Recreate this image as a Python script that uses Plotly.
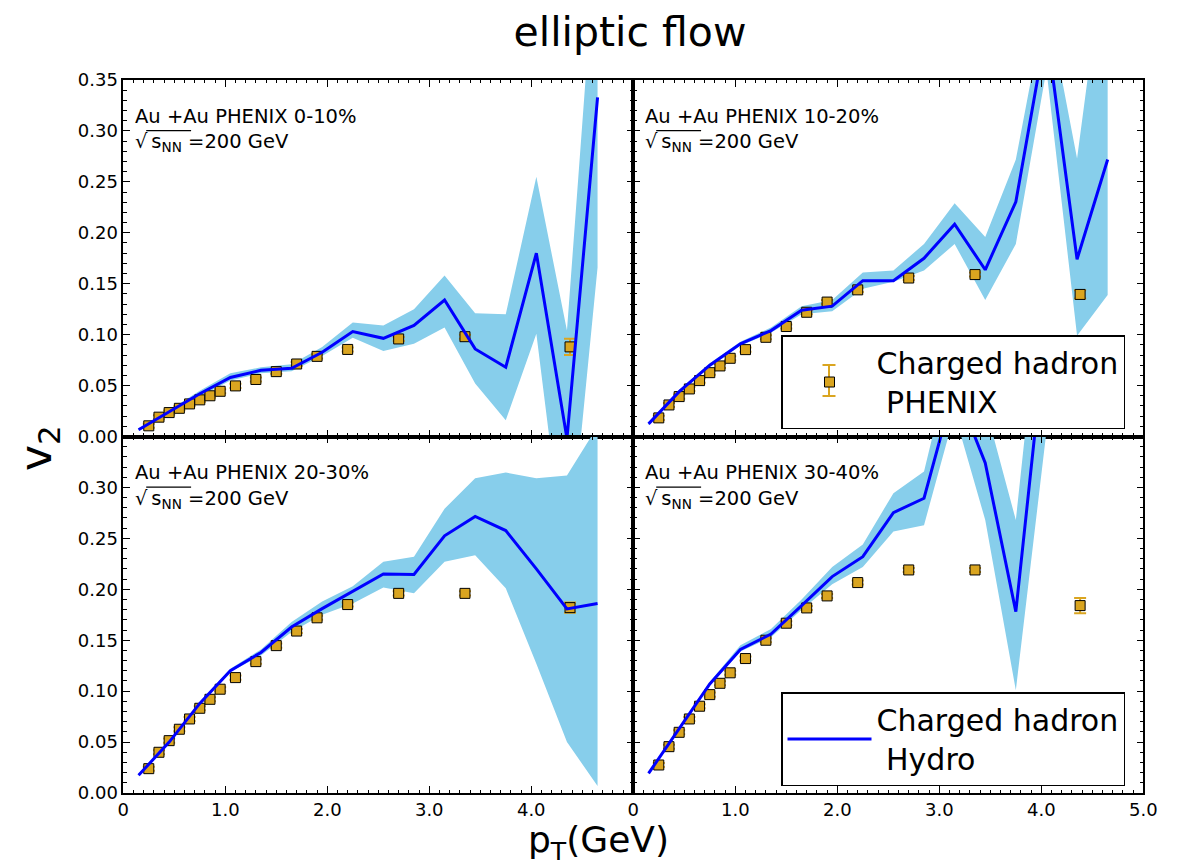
import plotly.graph_objects as go

# ---------------- data ----------------
CENTRALITY = ["0-10%", "10-20%", "20-30%", "30-40%"]

# PHENIX charged hadron v2 (pT bin centres, GeV)
PT_DATA = [0.25, 0.35, 0.45, 0.55, 0.65, 0.75, 0.85, 0.95, 1.1, 1.3,
           1.5, 1.7, 1.9, 2.2, 2.7, 3.35, 4.38]

V2_DATA_0_10 = [0.0105, 0.019, 0.0235, 0.0277, 0.032, 0.036, 0.040, 0.0444, 0.0497, 0.056,
                0.0637, 0.0712, 0.0787, 0.0855, 0.0958, 0.098, 0.088]
V2_DATA_10_20 = [0.0183, 0.031, 0.0392, 0.0467, 0.0549, 0.0627, 0.0693, 0.0768, 0.0853, 0.0974,
                 0.108, 0.122, 0.132, 0.144, 0.1556, 0.159, 0.1395]
V2_DATA_20_30 = [0.0239, 0.040, 0.0514, 0.0626, 0.0727, 0.0832, 0.092, 0.1019, 0.1133, 0.129,
                 0.1447, 0.159, 0.172, 0.185, 0.196, 0.196, 0.182]
V2_DATA_30_40 = [0.0275, 0.0455, 0.0596, 0.0727, 0.0852, 0.0966, 0.1077, 0.118, 0.132, 0.150,
                 0.1667, 0.1817, 0.1935, 0.2066, 0.219, 0.219, 0.184]

ERR_0_10 = [0.002] * 16 + [0.008]
ERR_10_20 = [0.002] * 16 + [0.004]
ERR_20_30 = [0.002] * 16 + [0.005]
ERR_30_40 = [0.002] * 16 + [0.0074]

# Hydro calculation (pT grid, GeV) with uncertainty band
PT_HYDRO = [0.15, 0.45, 0.75, 1.05, 1.35, 1.65, 1.95, 2.25,
            2.55, 2.85, 3.15, 3.45, 3.75, 4.05, 4.35, 4.65]

HYDRO_0_10 = [0.0066, 0.024, 0.042, 0.058, 0.065, 0.067, 0.0827, 0.103,
              0.0964, 0.109, 0.134, 0.086, 0.068, 0.180, -0.002, 0.333]
HYDRO_LO_0_10 = [0.006, 0.022, 0.039, 0.055, 0.062, 0.064, 0.079, 0.097,
                 0.084, 0.091, 0.107, 0.052, 0.016, 0.101, -0.14, 0.166]
HYDRO_HI_0_10 = [0.008, 0.026, 0.045, 0.062, 0.068, 0.071, 0.088, 0.112,
                 0.109, 0.125, 0.158, 0.121, 0.120, 0.255, 0.104, 0.51]

HYDRO_10_20 = [0.0124, 0.044, 0.070, 0.091, 0.104, 0.124, 0.128, 0.153,
               0.153, 0.175, 0.2085, 0.1637, 0.2304, 0.40, 0.174, 0.272]
HYDRO_LO_10_20 = [0.011, 0.042, 0.068, 0.089, 0.102, 0.120, 0.123, 0.145,
                  0.152, 0.163, 0.189, 0.134, 0.189, 0.36, 0.099, 0.139]
HYDRO_HI_10_20 = [0.014, 0.046, 0.072, 0.093, 0.107, 0.128, 0.134, 0.161,
                  0.163, 0.189, 0.229, 0.196, 0.272, 0.43, 0.273, 0.50]

HYDRO_20_30 = [0.0174, 0.050, 0.088, 0.120, 0.138, 0.163, 0.181, 0.198,
               0.215, 0.2145, 0.2525, 0.2715, 0.2577, 0.22, 0.1807, 0.186]
HYDRO_LO_20_30 = [0.017, 0.049, 0.087, 0.119, 0.135, 0.158, 0.175, 0.186,
                  0.2017, 0.196, 0.227, 0.2335, 0.201, 0.127, 0.050, 0.0069]
HYDRO_HI_20_30 = [0.018, 0.051, 0.089, 0.122, 0.141, 0.168, 0.188, 0.203,
                  0.227, 0.232, 0.279, 0.309, 0.3146, 0.309, 0.3117, 0.36]

HYDRO_30_40 = [0.0193, 0.063, 0.107, 0.141, 0.156, 0.184, 0.2125, 0.232,
               0.2753, 0.2894, 0.40, 0.324, 0.178, 0.46, 0.52, 0.50]
HYDRO_LO_30_40 = [0.019, 0.062, 0.106, 0.139, 0.153, 0.180, 0.205, 0.222,
                  0.2567, 0.263, 0.3726, 0.268, 0.101, 0.355, 0.45, 0.45]
HYDRO_HI_30_40 = [0.020, 0.064, 0.109, 0.145, 0.161, 0.190, 0.222, 0.244,
                  0.2944, 0.3156, 0.44, 0.38, 0.268, 0.55, 0.60, 0.60]

X_TICKS = [0, 1, 2, 3, 4, 5]
X_TICK_TEXT = ["0", "1.0", "2.0", "3.0", "4.0", "5.0"]
Y_TICKS = [0.00, 0.05, 0.10, 0.15, 0.20, 0.25, 0.30, 0.35]
Y_TICK_TEXT = ["0.00", "0.05", "0.10", "0.15", "0.20", "0.25", "0.30", "0.35"]

# ---------------- styling ----------------
FONT = "DejaVu Sans"
GOLD = "#DAA520"
SKY = "#87CEEB"
BLUE = "#0000FF"
W, H = 1183, 868

X_DOMAINS = [[0.1042, 0.5353], [0.5353, 0.9665]]
Y_DOMAINS = [[0.4971, 0.9078], [0.0864, 0.4971]]

panels = [
    (V2_DATA_0_10, ERR_0_10, HYDRO_0_10, HYDRO_LO_0_10, HYDRO_HI_0_10),
    (V2_DATA_10_20, ERR_10_20, HYDRO_10_20, HYDRO_LO_10_20, HYDRO_HI_10_20),
    (V2_DATA_20_30, ERR_20_30, HYDRO_20_30, HYDRO_LO_20_30, HYDRO_HI_20_30),
    (V2_DATA_30_40, ERR_30_40, HYDRO_30_40, HYDRO_LO_30_40, HYDRO_HI_30_40),
]

fig = go.Figure()
layout = {}
annotations = []
shapes = []


def px(x):
    return x / W


def py(y):
    return 1 - y / H


for i, (v2, err, hyd, lo, hi) in enumerate(panels):
    row, col = divmod(i, 2)
    n = i + 1
    xa = "x" if n == 1 else f"x{n}"
    ya = "y" if n == 1 else f"y{n}"
    xkey = "xaxis" if n == 1 else f"xaxis{n}"
    ykey = "yaxis" if n == 1 else f"yaxis{n}"

    # uncertainty band of the hydro curve
    fig.add_trace(go.Scatter(x=PT_HYDRO, y=lo, mode="lines", line=dict(width=0, color=SKY),
                             xaxis=xa, yaxis=ya, showlegend=False, hoverinfo="skip"))
    fig.add_trace(go.Scatter(x=PT_HYDRO, y=hi, mode="lines", line=dict(width=0, color=SKY),
                             fill="tonexty", fillcolor=SKY,
                             xaxis=xa, yaxis=ya, showlegend=False, hoverinfo="skip"))
    # PHENIX data
    fig.add_trace(go.Scatter(
        x=PT_DATA, y=v2, mode="markers",
        marker=dict(symbol="square", size=10, color=GOLD, line=dict(color="black", width=1)),
        error_y=dict(type="data", array=err, visible=True, color=GOLD, thickness=2, width=6),
        xaxis=xa, yaxis=ya,
        name="Charged hadron<br>\u00a0PHENIX", legend="legend",
        showlegend=(n == 2)))
    # hydro curve
    fig.add_trace(go.Scatter(
        x=PT_HYDRO, y=hyd, mode="lines", line=dict(color=BLUE, width=3),
        xaxis=xa, yaxis=ya,
        name="Charged hadron<br>\u00a0Hydro", legend="legend2",
        showlegend=(n == 4)))

    x_text = list(X_TICK_TEXT)
    if n == 3:
        x_text[-1] = ""
    y_text = list(Y_TICK_TEXT)
    if n == 3:
        y_text[-1] = ""

    common = dict(showgrid=False, zeroline=False, showline=True, linecolor="black",
                  linewidth=1.5, mirror="allticks", ticks="inside", tickcolor="black",
                  tickwidth=1, ticklen=7, automargin=False,
                  tickfont=dict(family=FONT, size=18, color="black"))
    layout[xkey] = dict(common, domain=X_DOMAINS[col], range=[0, 5], anchor=ya,
                        tickvals=X_TICKS, ticktext=x_text, showticklabels=(row == 1),
                        minor=dict(dtick=0.1, ticks="inside", ticklen=3.5,
                                   tickcolor="black", tickwidth=1))
    layout[ykey] = dict(common, domain=Y_DOMAINS[row], range=[0, 0.35], anchor=xa,
                        tickvals=Y_TICKS, ticktext=y_text, showticklabels=(col == 0),
                        minor=dict(dtick=0.01, ticks="inside", ticklen=3.5,
                                   tickcolor="black", tickwidth=1))

    xd = f"{xa} domain"
    yd = f"{ya} domain"
    annotations.append(dict(
        text=f"Au +Au PHENIX {CENTRALITY[i]}", xref=xd, yref=yd, x=0.019, y=0.898,
        xanchor="left", yanchor="middle", showarrow=False,
        font=dict(family=FONT, size=19.5, color="black")))
    annotations.append(dict(
        text="\u221a\u2009s<sub>NN</sub> =200 GeV", xref=xd, yref=yd, x=0.019, y=0.824,
        xanchor="left", yanchor="middle", showarrow=False,
        font=dict(family=FONT, size=19.5, color="black")))
    # overline of the square-root sign
    shapes.append(dict(type="line", xref=xd, yref=yd, x0=0.045, x1=0.133, y0=0.858, y1=0.858,
                       line=dict(color="black", width=1.2)))

# error bar drawn behind the legend marker of the PHENIX entry
LEG_MARK_X, LEG_MARK_Y, LEG_BAR, LEG_CAP = 829, 380.5, 15.5, 6.5
shapes += [
    dict(type="line", xref="paper", yref="paper", layer="above",
         x0=px(LEG_MARK_X), x1=px(LEG_MARK_X),
         y0=py(LEG_MARK_Y - LEG_BAR), y1=py(LEG_MARK_Y + LEG_BAR),
         line=dict(color=GOLD, width=2)),
    dict(type="line", xref="paper", yref="paper", layer="above",
         x0=px(LEG_MARK_X - LEG_CAP), x1=px(LEG_MARK_X + LEG_CAP),
         y0=py(LEG_MARK_Y - LEG_BAR), y1=py(LEG_MARK_Y - LEG_BAR),
         line=dict(color=GOLD, width=2)),
    dict(type="line", xref="paper", yref="paper", layer="above",
         x0=px(LEG_MARK_X - LEG_CAP), x1=px(LEG_MARK_X + LEG_CAP),
         y0=py(LEG_MARK_Y + LEG_BAR), y1=py(LEG_MARK_Y + LEG_BAR),
         line=dict(color=GOLD, width=2)),
]

# axis titles
annotations.append(dict(text="v<sub>2</sub>", xref="paper", yref="paper",
                        x=px(38), y=py(448), xanchor="center", yanchor="middle",
                        textangle=-90, showarrow=False,
                        font=dict(family=FONT, size=44, color="black")))
annotations.append(dict(text="p<sub>T</sub>(GeV)", xref="paper", yref="paper",
                        x=px(598), y=py(842), xanchor="center", yanchor="middle",
                        showarrow=False, font=dict(family=FONT, size=36, color="black")))

legend_style = dict(bgcolor="rgba(255,255,255,0)", bordercolor="black", borderwidth=1.5,
                    font=dict(family=FONT, size=30, color="black"),
                    xanchor="left", yanchor="top", itemwidth=84, valign="middle")

fig.update_layout(
    template="none",
    width=W, height=H,
    margin=dict(l=0, r=0, t=0, b=0, pad=0),
    paper_bgcolor="white", plot_bgcolor="white",
    title=dict(text="elliptic flow", x=px(630), y=py(32), xanchor="center",
               yanchor="middle", font=dict(family=FONT, size=41, color="black")),
    legend=dict(legend_style, x=px(781), y=py(335)),
    legend2=dict(legend_style, x=px(781), y=py(692)),
    annotations=annotations,
    shapes=shapes,
    **layout,
)

fig.write_html("out.html")
